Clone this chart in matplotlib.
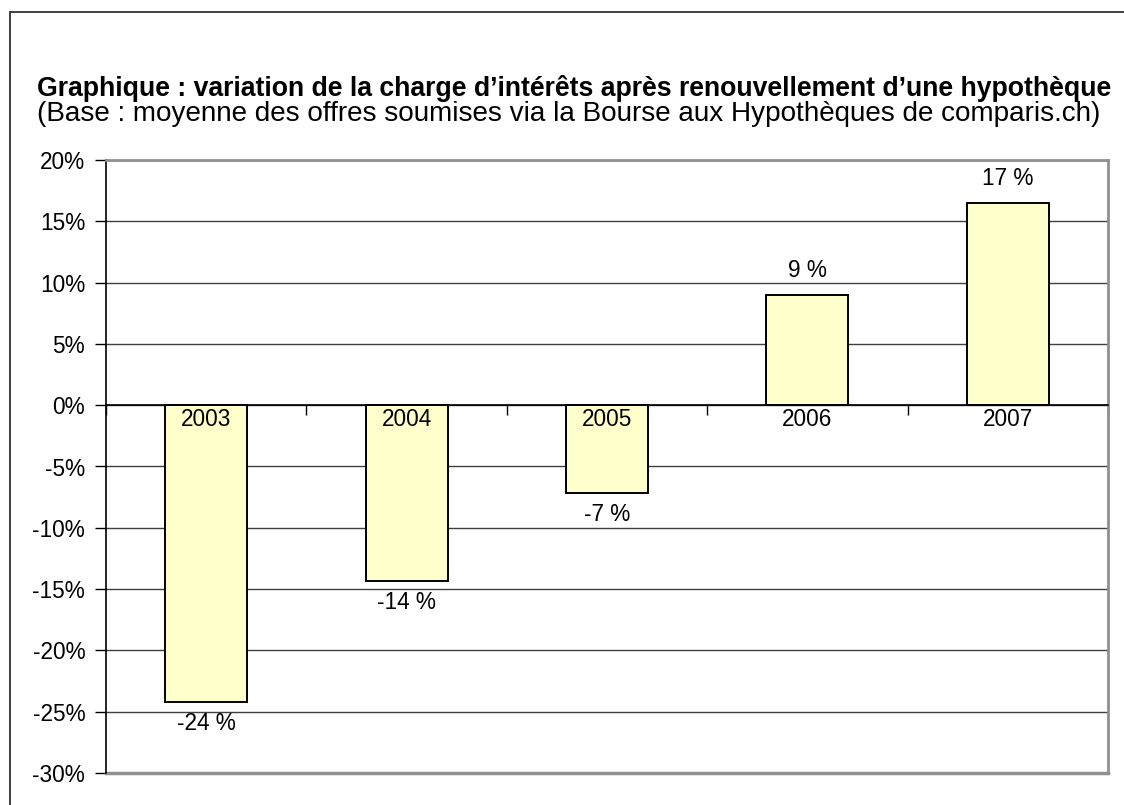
import matplotlib
matplotlib.use("Agg")
import matplotlib.pyplot as plt
from matplotlib.patches import Rectangle

years = ["2003", "2004", "2005", "2006", "2007"]
values = [-24.2, -14.3, -7.2, 9.0, 16.5]
value_labels = ["-24 %", "-14 %", "-7 %", "9 %", "17 %"]
yticks = [20, 15, 10, 5, 0, -5, -10, -15, -20, -25, -30]
title = "Graphique : variation de la charge d’intérêts après renouvellement d’une hypothèque"
subtitle = "(Base : moyenne des offres soumises via la Bourse aux Hypothèques de comparis.ch)"

plt.rcParams['font.family'] = ['Liberation Sans', 'DejaVu Sans']

W, H = 1124, 805
fig = plt.figure(figsize=(W / 100, H / 100), dpi=100)
fig.patch.set_facecolor('white')

# outer border
fig.patches.append(Rectangle((10 / W, -0.05), 1.2, 1 - 12 / H + 0.05,
                             transform=fig.transFigure, fill=False,
                             edgecolor='#303030', linewidth=1.3, clip_on=False))

fig.text(37 / W, 1 - 89 / H, title, fontsize=19.2, fontweight='bold', va='center', ha='left')
fig.text(37 / W, 1 - 114 / H, subtitle, fontsize=20.1, va='center', ha='left')

ax = fig.add_axes([106 / W, 32 / H, (1108 - 106) / W, (773 - 160) / H])
x = list(range(len(years)))
ax.bar(x, values, width=0.41, color='#FFFFCC', edgecolor='black', linewidth=1.4, zorder=3)

ax.set_xlim(-0.5, len(years) - 0.5)
ax.set_ylim(-30, 20)
ax.set_yticks(yticks)
ax.set_yticklabels([f"{t}%" for t in yticks], fontsize=16.3)
ax.yaxis.grid(True, color='#404040', linewidth=1.0, zorder=0)
ax.set_axisbelow(True)

ax.spines['left'].set_color('black')
ax.spines['left'].set_linewidth(1.2)
ax.spines['bottom'].set_position(('data', 0))
ax.spines['bottom'].set_color('black')
ax.spines['bottom'].set_linewidth(1.2)
ax.spines['bottom'].set_zorder(4)
for s in ['top', 'right']:
    ax.spines[s].set_color('#909090')
    ax.spines[s].set_linewidth(2.0)
ax.axhline(-30, color='#909090', linewidth=2.5, zorder=2, clip_on=False)

ax.set_xticks([i - 0.5 for i in range(len(years) + 1)])
ax.set_xticklabels([])
ax.tick_params(axis='x', direction='out', length=7, width=1, color='black')
ax.tick_params(axis='y', direction='out', length=8, width=1, color='black', pad=7)

for xi, yr in zip(x, years):
    ax.annotate(yr, (xi, 0), xytext=(0, -10.5), textcoords='offset points',
                ha='center', va='center', fontsize=16.3, zorder=5)

for xi, v, lab in zip(x, values, value_labels):
    off = 17.5 if v > 0 else -15.5
    ax.annotate(lab, (xi, v), xytext=(0, off), textcoords='offset points',
                ha='center', va='center', fontsize=16.3, zorder=5)

fig.savefig("out.png", dpi=100, facecolor='white')
